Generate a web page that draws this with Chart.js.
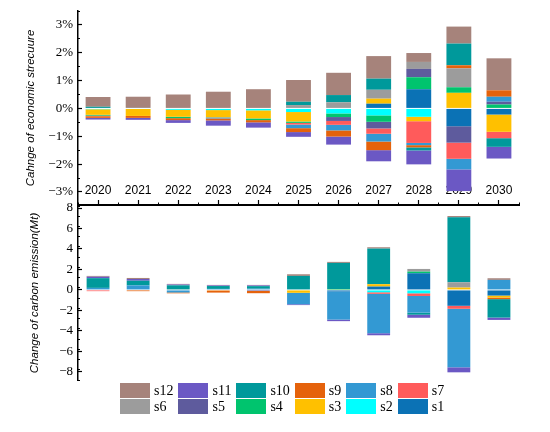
<!DOCTYPE html>
<html>
<head>
<meta charset="utf-8">
<script src="https://cdn.jsdelivr.net/npm/chart.js@4"></script>
<style>
body { margin: 0; background: #fff; width: 550px; height: 432px; position: relative; overflow: hidden; }
#top { position: absolute; left: 0; top: 0; }
#bottom { position: absolute; left: 0; top: 195px; }
#legend { position: absolute; left: 120px; top: 383px; display: grid; grid-template-columns: repeat(6, auto);
  column-gap: 5px; row-gap: 1px; font: 14px "Liberation Serif"; color: #000; }
.item { display: flex; align-items: center; height: 15px; }
.box { width: 30px; height: 15px; margin-right: 4px; }
</style>
</head>
<body>
<canvas id="top" width="550" height="215"></canvas>
<canvas id="bottom" width="550" height="190"></canvas>
<div id="legend"></div>
<script>
const years = ['2020', '2021', '2022', '2023', '2024', '2025', '2026', '2027', '2028', '2029', '2030'];
const names = ['s1', 's2', 's3', 's4', 's5', 's6', 's7', 's8', 's9', 's10', 's11', 's12'];
const colors = ['#0b72b5', '#00ffff', '#ffc000', '#00c46e', '#5e5b9d', '#9c9c9c',
                '#ff5b5b', '#3399d3', '#e5620b', '#00999b', '#6b58c4', '#a6837b'];

// change of economic structure (%)
const econS1  = [0, 0, 0, 0, 0, 0, 0, 0.17, 0.69, -0.64, -0.22];
const econS2  = [-0.03, -0.02, -0.05, -0.06, -0.07, -0.13, -0.18, -0.25, -0.30, 0, 0];
const econS3  = [-0.20, -0.25, -0.25, -0.26, -0.29, -0.34, 0, 0.18, -0.16, 0.56, -0.62];
const econS4  = [-0.03, 0, -0.05, 0, -0.06, -0.05, -0.13, -0.23, 0.43, 0.20, 0.14];
const econS5  = [0, 0, 0, 0, 0, 0, -0.14, -0.24, 0.30, -0.59, 0.10];
const econS6  = [0, 0, 0, 0, 0, 0.12, 0.22, 0.32, 0.25, 0.68, 0];
const econS7  = [-0.02, 0, 0, 0, 0, -0.06, -0.14, -0.19, -0.78, -0.58, -0.23];
const econS8  = [0, 0, 0, -0.04, 0, -0.13, -0.20, -0.28, -0.08, -0.38, 0.18];
const econS9  = [-0.06, -0.07, -0.07, -0.07, -0.08, -0.14, -0.22, -0.31, -0.08, 0.11, 0.23];
const econS10 = [0.06, 0.02, 0, 0, 0, 0.12, 0.26, 0.40, -0.11, 0.78, -0.31];
const econS11 = [-0.06, -0.07, -0.10, -0.19, -0.19, -0.17, -0.29, -0.40, -0.50, -0.78, -0.42];
const econS12 = [0.35, 0.40, 0.50, 0.60, 0.69, 0.78, 0.80, 0.81, 0.32, 0.61, 1.15];

// change of carbon emission (Mt)
const carbS1  = [0.05, 0, 0, 0, 0, 0, -0.15, 0.33, 1.63, -1.55, -0.55];
const carbS2  = [0, 0, 0, 0, 0, 0, 0, -0.23, -0.33, 0, 0];
const carbS3  = [0, 0, 0, -0.06, 0, -0.28, 0.04, 0.23, 0, 0.23, -0.20];
const carbS4  = [0, 0, 0, 0, 0, 0, 0.05, 0, 0.16, 0, 0];
const carbS5  = [0, 0, 0, 0, -0.10, 0, 0, 0, 0, 0, 0];
const carbS6  = [0, 0, 0, 0, 0, 0, 0, 0, 0.26, 0.52, 0];
const carbS7  = [-0.12, 0, 0, 0, 0, 0, 0, -0.15, -0.26, -0.29, 0];
const carbS8  = [0.15, 0.45, -0.25, 0.10, 0.12, -1.12, -2.75, -3.85, -1.63, -5.72, 0.98];
const carbS9  = [0, -0.12, -0.08, -0.20, -0.22, 0, 0, 0, 0, 0, -0.15];
const carbS10 = [0.95, 0.45, 0.45, 0.28, 0.25, 1.37, 2.55, 3.48, -0.20, 6.34, -1.80];
const carbS11 = [0.14, 0.17, 0.08, 0.06, 0.07, -0.08, -0.15, -0.20, -0.30, -0.49, -0.23];
const carbS12 = [0.08, 0.10, 0.06, 0.05, 0.05, 0.16, 0.10, 0.13, 0, 0.13, 0.16];

const econSeries = [econS1, econS2, econS3, econS4, econS5, econS6, econS7, econS8, econS9, econS10, econS11, econS12];
const carbSeries = [carbS1, carbS2, carbS3, carbS4, carbS5, carbS6, carbS7, carbS8, carbS9, carbS10, carbS11, carbS12];

const serif = { family: 'Liberation Serif', size: 13 };
const minus = v => (v < 0 ? '\u2212' : '') + Math.abs(v);

// drop the label overhang padding so the plot area is exactly what layout.padding says
function fixBox(s, w, h) {
    if (w !== null) s.width = w;
    if (h !== null) s.height = h;
    s.paddingTop = 0; s.paddingBottom = 0; s.paddingLeft = 0; s.paddingRight = 0;
}

function makeSets(series, barPct) {
    return series.map((d, i) => ({
        label: names[i],
        data: d,
        backgroundColor: colors[i],
        borderWidth: 0,
        barPercentage: barPct,
        categoryPercentage: 1
    }));
}

function yAxes(min, max, step, minorStep, fmt, title, titlePad) {
    return {
        y: {
            stacked: true, min: min, max: max, weight: 1,
            afterFit: s => fixBox(s, 78, null),
            border: { display: true, color: '#000', width: 1.5 },
            grid: { drawOnChartArea: false, drawTicks: true, tickLength: -4, color: '#000', tickWidth: 1.2 },
            ticks: { stepSize: step, includeBounds: false, padding: 9, color: '#000', font: serif, callback: fmt },
            title: { display: true, text: title, color: '#000', padding: { top: titlePad, bottom: 0 },
                     font: { family: 'Liberation Sans', size: 11.5, style: 'italic' } }
        },
        yMinor: {
            stacked: true, min: min, max: max, weight: 0, position: 'left',
            afterFit: s => fixBox(s, 0, null),
            border: { display: false },
            grid: { drawOnChartArea: false, drawTicks: true, tickLength: -2, color: '#000', tickWidth: 1 },
            ticks: { display: false, stepSize: minorStep, includeBounds: false }
        }
    };
}

// top chart: economic structure (year labels sit inside the plot, over the bars)
const topScales = yAxes(-3.47, 3.5, 1, 0.5, v => minus(v) + '%', 'Cahnge of economic strecuure', 24);
topScales.x = {
    stacked: true, z: 1,
    afterFit: s => fixBox(s, null, 0),
    border: { display: true, color: '#000', width: 2 },
    grid: { offset: false, drawOnChartArea: false, drawTicks: true, tickLength: -5, color: '#000', tickWidth: 1.2 },
    ticks: { mirror: true, padding: 7, maxRotation: 0, autoSkip: false, color: '#000',
             font: { family: 'Liberation Sans', size: 12 } }
};
topScales.xMinor = {
    type: 'category', labels: years, position: 'bottom', offset: true,
    afterFit: s => fixBox(s, null, 0),
    border: { display: false },
    grid: { offset: true, drawOnChartArea: false, drawTicks: true, tickLength: -2.5, color: '#000', tickWidth: 1 },
    ticks: { display: false }
};

new Chart(document.getElementById('top'), {
    type: 'bar',
    data: { labels: years, datasets: makeSets(econSeries, 0.62) },
    options: {
        responsive: false, animation: false,
        layout: { padding: { top: 11, right: 31, bottom: 10, left: 0 } },
        plugins: { legend: { display: false }, tooltip: { enabled: false } },
        scales: topScales
    }
});

// bottom chart: carbon emission
const bottomScales = yAxes(-8.8, 8.2, 2, 1, v => minus(v), 'Change of carbon emission(Mt)', 28);
bottomScales.x = { stacked: true, display: false };

new Chart(document.getElementById('bottom'), {
    type: 'bar',
    data: { labels: years, datasets: makeSets(carbSeries, 0.57) },
    options: {
        responsive: false, animation: false,
        layout: { padding: { top: 11, right: 31, bottom: 5, left: 0 } },
        plugins: { legend: { display: false }, tooltip: { enabled: false } },
        scales: bottomScales
    }
});

// legend, s12 first, two rows of six
const legend = document.getElementById('legend');
for (let i = names.length - 1; i >= 0; i--) {
    const item = document.createElement('div');
    item.className = 'item';
    item.innerHTML = '<span class="box" style="background:' + colors[i] + '"></span><span>' + names[i] + '</span>';
    legend.appendChild(item);
}
</script>
</body>
</html>
